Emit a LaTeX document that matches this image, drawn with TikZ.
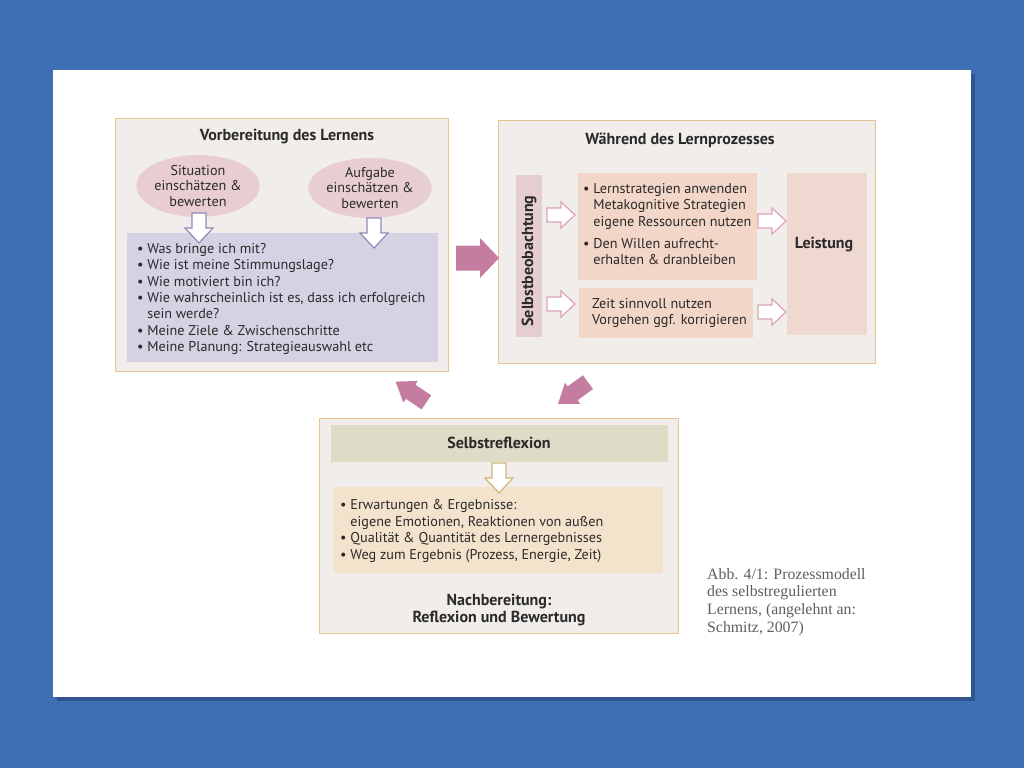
\documentclass[tikz,border=0pt]{standalone}
\usepackage{fontspec}
\setmainfont{PT Sans}
\newfontfamily\capfont{Liberation Serif}
\usetikzlibrary{shapes.geometric}
\definecolor{bgblue}{HTML}{3E6EB4}
\definecolor{shadowblue}{HTML}{2E558F}
\definecolor{boxfill}{HTML}{F0EDEA}
\definecolor{tanborder}{HTML}{E5C48E}
\definecolor{pinkell}{HTML}{E8CED2}
\definecolor{lavender}{HTML}{D6D2E3}
\definecolor{lavline}{HTML}{8F8AB9}
\definecolor{bigpink}{HTML}{C47DA0}
\definecolor{barpink}{HTML}{E6CDD2}
\definecolor{salmon}{HTML}{F2D6C7}
\definecolor{leistfill}{HTML}{EFD8D0}
\definecolor{pinkline}{HTML}{DDA3B8}
\definecolor{khaki}{HTML}{DEDBC6}
\definecolor{tanfill}{HTML}{F4E3CC}
\definecolor{tanline}{HTML}{D5B37A}
\definecolor{capgray}{HTML}{5E5E5E}
\definecolor{txt}{HTML}{2A2A2A}
\begin{document}
\begin{tikzpicture}[x=1pt,y=-1pt,
  phase/.style={draw=tanborder, line width=1.4pt, fill=boxfill, anchor=north west, inner sep=0pt},
  panel/.style={anchor=north west, inner sep=0pt, draw=none},
  ttl/.style={font=\fontsize{16}{18}\selectfont\bfseries, text=txt},
  lst/.style={font=\fontsize{14.2}{16.4}\selectfont, text=txt, align=left, anchor=west, inner sep=0pt},
  ell/.style={ellipse, fill=pinkell, inner sep=0pt, align=center, font=\fontsize{14.2}{15.8}\selectfont, text=txt},
  pics/hollowdown/.style={code={\draw[pic actions] (-7,-15) -- (7,-15) -- (7,0) -- (14,0) -- (0,15) -- (-14,0) -- (-7,0) -- cycle;}},
  pics/hollowright/.style={code={\draw[pic actions] (-14,-7) -- (0,-7) -- (0,-13) -- (14,0) -- (0,13) -- (0,7) -- (-14,7) -- cycle;}},
  pics/bigright/.style={code={\fill[pic actions] (-21.5,-12.5) -- (2.5,-12.5) -- (2.5,-20) -- (21.5,0) -- (2.5,20) -- (2.5,12.5) -- (-21.5,12.5) -- cycle;}},
  pics/diagarrow/.style={code={\fill[pic actions] (-18.5,-8.5) -- (0.5,-8.5) -- (0.5,-13) -- (18.5,0) -- (0.5,13) -- (0.5,8.5) -- (-18.5,8.5) -- cycle;}},
]
\useasboundingbox (0,0) rectangle (1024,768);
\fill[bgblue] (0,0) rectangle (1024,768);
\fill[shadowblue] (57,74) rectangle (975,701);
\fill[white] (53,70) rectangle (971,697);

% ---- Box 1: Vorbereitung
\node[phase, minimum width=333, minimum height=253] (vor) at (115,118) {};
\node[ttl] (vortitle) at (287,137) {Vorbereitung des Lernens};
\node[ell, minimum width=118, minimum height=62] (sit) at (198,186) {Situation\\einschätzen \&\\bewerten};
\node[ell, minimum width=116, minimum height=60] (auf) at (370,188) {Aufgabe\\einschätzen \&\\bewerten};
\node[panel, fill=lavender, minimum width=311, minimum height=129] (fragen) at (127,233) {};
\pic[draw=lavline, fill=white, line width=1.2pt] at (199,228) {hollowdown};
\pic[draw=lavline, fill=white, line width=1.2pt] at (374,233) {hollowdown};
\node[lst] (fragentext) at (137,299) {• Was bringe ich mit?\\• Wie ist meine Stimmungslage?\\• Wie motiviert bin ich?\\• Wie wahrscheinlich ist es, dass ich erfolgreich\\\phantom{• }sein werde?\\• Meine Ziele \& Zwischenschritte\\• Meine Planung: Strategieauswahl etc};

% ---- Box 2: Waehrend
\node[phase, minimum width=377, minimum height=243] (waehr) at (498,120) {};
\node[ttl] (waehrtitle) at (680,140) {Während des Lernprozesses};
\node[panel, fill=barpink, minimum width=26, minimum height=162] (beob) at (516,175) {};
\node[rotate=90, font=\fontsize{16}{17}\selectfont\bfseries, text=txt] (beobtext) at (529,261) {Selbstbeobachtung};
\node[panel, fill=salmon, minimum width=179, minimum height=107] (strat) at (578,173) {};
\node[panel, fill=salmon, minimum width=174, minimum height=50] (zeit) at (579,288) {};
\node[panel, fill=leistfill, minimum width=80, minimum height=162] (leist) at (787,173) {};
\node[font=\fontsize{16}{18}\selectfont\bfseries, text=txt] (leisttext) at (824,245) {Leistung};
\pic[draw=pinkline, fill=white, line width=1.2pt] at (561,215) {hollowright};
\pic[draw=pinkline, fill=white, line width=1.2pt] at (561,304) {hollowright};
\pic[draw=pinkline, fill=white, line width=1.2pt] at (772,221) {hollowright};
\pic[draw=pinkline, fill=white, line width=1.2pt] at (772,312) {hollowright};
\node[lst] (strattext) at (583,224) {• Lernstrategien anwenden\\\phantom{• }Metakognitive Strategien\\\phantom{• }eigene Ressourcen nutzen\\[5.5pt]• Den Willen aufrecht-\\\phantom{• }erhalten \& dranbleiben};
\node[lst] (zeittext) at (592,313) {Zeit sinnvoll nutzen\\Vorgehen ggf. korrigieren};

% ---- big arrows
\pic[fill=bigpink] at (477.5,258) {bigright};
\pic[fill=bigpink, rotate=146] at (411,392) {diagarrow};
\pic[fill=bigpink, rotate=216] at (573,393) {diagarrow};

% ---- Box 3: Nachbereitung
\node[phase, minimum width=359, minimum height=215] (nach) at (319,418) {};
\node[panel, fill=khaki, minimum width=337, minimum height=37] (refl) at (331,425) {};
\node[font=\fontsize{16}{18}\selectfont\bfseries, text=txt] (refltext) at (499,443) {Selbstreflexion};
\node[panel, fill=tanfill, minimum width=330, minimum height=86] (erg) at (333,487) {};
\pic[draw=tanline, fill=white, line width=1.2pt] at (499,478) {hollowdown};
\node[lst] (ergtext) at (340,531) {• Erwartungen \& Ergebnisse:\\\phantom{• }eigene Emotionen, Reaktionen von außen\\• Qualität \& Quantität des Lernergebnisses\\• Weg zum Ergebnis (Prozess, Energie, Zeit)};
\node[ttl, align=center, font=\fontsize{16}{17}\selectfont\bfseries] (nachtitle) at (499,610) {Nachbereitung:\\Reflexion und Bewertung};

% ---- caption
\node[anchor=west, inner sep=0pt, align=left, text=capgray, font=\capfont\fontsize{15.8}{17.7}\selectfont] (caption) at (707,602) {Abb. 4/1: Prozessmodell\\des selbstregulierten\\Lernens, (angelehnt an:\\Schmitz, 2007)};
\end{tikzpicture}
\end{document}
